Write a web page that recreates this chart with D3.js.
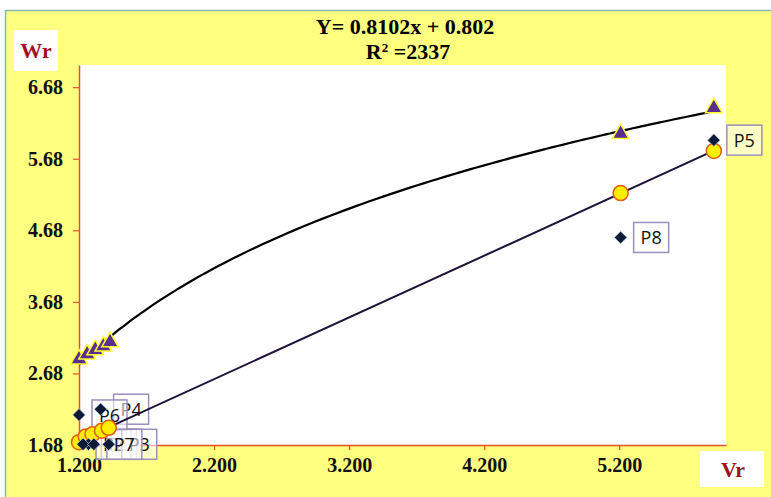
<!DOCTYPE html>
<html>
<head>
<meta charset="utf-8">
<script src="https://cdn.jsdelivr.net/npm/d3@7"></script>
<style>
  body { margin: 0; background: #fff; }
  svg { display: block; }
</style>
</head>
<body>
<svg id="chart" width="771" height="497"></svg>
<script>
// series 1: triangles (upper curve)
const triX = [1.20, 1.26, 1.32, 1.38, 1.43, 5.21, 5.90];
const triY = [2.88, 2.95, 3.01, 3.06, 3.12, 6.03, 6.39];
// series 2: circles (straight line)
const cirX = [1.20, 1.25, 1.30, 1.37, 1.42, 5.21, 5.90];
const cirY = [1.72, 1.80, 1.83, 1.88, 1.92, 5.20, 5.79];
// series 3: labelled points
const ptNames = ["P1", "P2", "P3", "P4", "P5", "P6", "P7", "P8"];
const ptX = [1.27, 1.23, 1.42, 1.36, 5.90, 1.20, 1.31, 5.21];
const ptY = [1.69, 1.69, 1.69, 2.18, 5.94, 2.10, 1.69, 4.58];

const xTicks = [1.2, 2.2, 3.2, 4.2, 5.2];
const yTicks = [1.68, 2.68, 3.68, 4.68, 5.68, 6.68];

const svg = d3.select("#chart");

// fond jaune + cadre
svg.append("rect").attr("x", 5.5).attr("y", 10.5).attr("width", 800).attr("height", 600)
    .attr("fill", "#ffff80").attr("stroke", "#86b4bc").attr("stroke-width", 1.5);

const x = d3.scaleLinear().domain([1.2, 5.99]).range([79, 726]);
const y = d3.scaleLinear().domain([1.68, 6.99]).range([445, 65]);

// zone de tracé
svg.append("rect").attr("x", 79).attr("y", 65).attr("width", 726 - 79).attr("height", 445 - 65)
    .attr("fill", "#fff");

// titre
svg.append("text").attr("x", 405).attr("y", 34).attr("text-anchor", "middle")
    .attr("font-family", "Liberation Serif").attr("font-weight", "bold").attr("font-size", 22)
    .attr("transform", "translate(405,0) scale(1,0.92) translate(-405,3)")
    .text("Y= 0.8102x + 0.802");
const r2 = svg.append("text").attr("x", 408).attr("y", 59).attr("text-anchor", "middle")
    .attr("font-family", "Liberation Serif").attr("font-weight", "bold").attr("font-size", 22)
    .attr("transform", "translate(408,0) scale(1,0.92) translate(-408,5)");
r2.append("tspan").text("R");
r2.append("tspan").attr("dy", -8).attr("font-size", 13).text("2");
r2.append("tspan").attr("dy", 8).text(" =2337");

// étiquettes des axes
svg.append("rect").attr("x", 14).attr("y", 30).attr("width", 44).attr("height", 41).attr("fill", "#fff");
svg.append("text").attr("x", 36).attr("y", 58).attr("text-anchor", "middle")
    .attr("font-family", "Liberation Serif").attr("font-weight", "bold").attr("font-size", 22)
    .attr("fill", "#a01020").text("Wr");
svg.append("rect").attr("x", 700).attr("y", 451).attr("width", 64).attr("height", 36).attr("fill", "#fff");
svg.append("text").attr("x", 733).attr("y", 477).attr("text-anchor", "middle")
    .attr("font-family", "Liberation Serif").attr("font-weight", "bold").attr("font-size", 22)
    .attr("fill", "#a01020").text("Vr");

// axes
const axisColor = "#e8502a";
const gx = svg.append("g").attr("transform", "translate(0,445)")
    .call(d3.axisBottom(x).tickValues(xTicks).tickFormat(d3.format(".3f")).tickSize(5).tickPadding(8).tickSizeOuter(0));
const gy = svg.append("g").attr("transform", "translate(79,0)")
    .call(d3.axisLeft(y).tickValues(yTicks).tickFormat(d3.format(".2f")).tickSize(6).tickPadding(10).tickSizeOuter(0));
[gx, gy].forEach(g => {
    g.select(".domain").attr("stroke", axisColor).attr("stroke-width", 1.5);
    g.selectAll(".tick line").attr("stroke", axisColor).attr("stroke-width", 1.2);
    g.selectAll(".tick text").attr("font-family", "Liberation Serif").attr("font-weight", "bold")
        .attr("font-size", 20).attr("fill", "#111");
});

// courbe de tendance (log) sur les triangles
function logFit(xs, ys) {
    const lx = xs.map(Math.log);
    const mx = d3.mean(lx), my = d3.mean(ys);
    const b = d3.sum(lx, (v, i) => (v - mx) * (ys[i] - my)) / d3.sum(lx, v => (v - mx) ** 2);
    return xv => my + b * (Math.log(xv) - mx);
}
function linFit(xs, ys) {
    const mx = d3.mean(xs), my = d3.mean(ys);
    const b = d3.sum(xs, (v, i) => (v - mx) * (ys[i] - my)) / d3.sum(xs, v => (v - mx) ** 2);
    return xv => my + b * (xv - mx);
}
const fTri = logFit(triX, triY);
const fCir = linFit(cirX, cirY);
const xs = d3.range(triX[0], d3.max(triX) + 0.001, 0.05);

const line = d3.line().x(d => x(d[0])).y(d => y(d[1])).curve(d3.curveMonotoneX);

// boîtes des étiquettes
const labels = svg.append("g");
ptNames.forEach((name, i) => {
    const px = x(ptX[i]), py = y(ptY[i]);
    labels.append("rect").attr("x", px + 13).attr("y", py - 15).attr("width", 35).attr("height", 30)
        .attr("fill", "#fff").attr("fill-opacity", 0.55).attr("stroke", "#9b8fbf").attr("stroke-width", 1.5);
    labels.append("text").attr("x", px + 30.5).attr("y", py + 7).attr("text-anchor", "middle")
        .attr("font-family", "Open Sans").attr("font-size", 18).attr("fill", "#111").text(name);
});

svg.append("path").datum(xs.map(v => [v, fTri(v)]))
    .attr("d", line).attr("fill", "none").attr("stroke", "#000").attr("stroke-width", 2.2);
svg.append("path").datum([cirX[0], d3.max(cirX)].map(v => [v, fCir(v)]))
    .attr("d", line).attr("fill", "none").attr("stroke", "#1c1238").attr("stroke-width", 2);

// triangles
svg.append("g").selectAll("path").data(triX).join("path")
    .attr("transform", (d, i) => `translate(${x(d)},${y(triY[i])})`)
    .attr("d", d3.symbol(d3.symbolTriangle, 120))
    .attr("fill", "#5a2d91").attr("stroke", "#ffff30").attr("stroke-width", 1.5);

// cercles
svg.append("g").selectAll("circle").data(cirX).join("circle")
    .attr("cx", d => x(d)).attr("cy", (d, i) => y(cirY[i])).attr("r", 7.5)
    .attr("fill", "#ffee00").attr("stroke", "#e05c10").attr("stroke-width", 1.5);

// losanges
svg.append("g").selectAll("path").data(ptX).join("path")
    .attr("transform", (d, i) => `translate(${x(d)},${y(ptY[i])}) rotate(45)`)
    .attr("d", d3.symbol(d3.symbolSquare, 80))
    .attr("fill", "#0c1c36").attr("stroke", "#cfd8e8").attr("stroke-width", 0.6);
</script>
</body>
</html>
